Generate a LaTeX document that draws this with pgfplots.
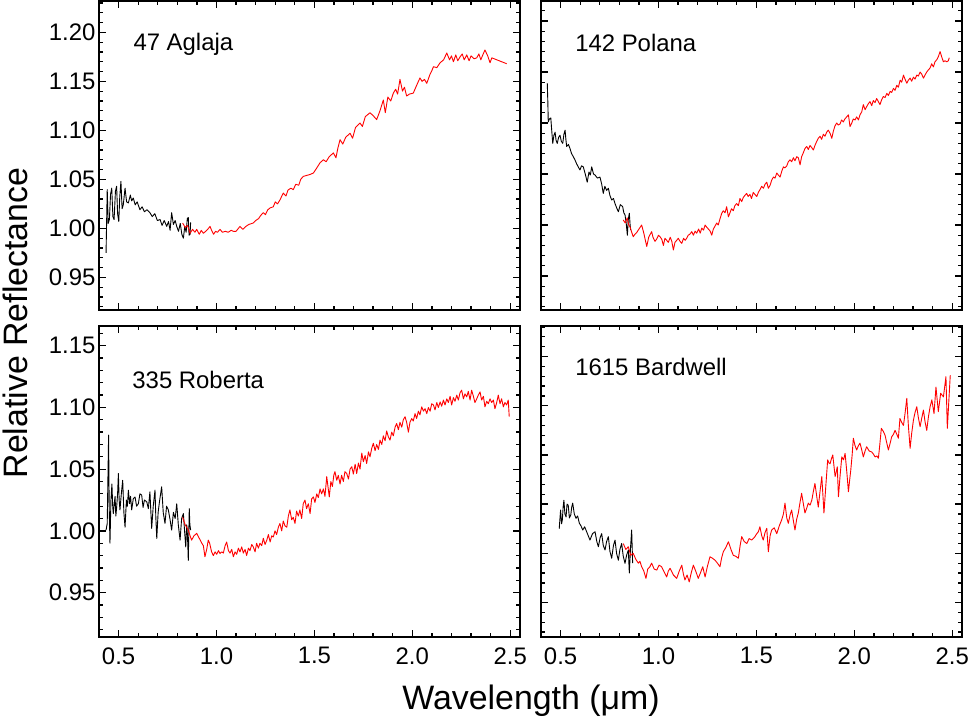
\documentclass[border=0pt]{standalone}
\usepackage{fontspec}
\setmainfont{Liberation Sans}
\usepackage{pgfplots}
\pgfplotsset{compat=1.18}

\newcommand{\tickfont}{\fontsize{24}{28}\selectfont}
\newcommand{\labfont}{\fontsize{34}{40}\selectfont}

\pgfplotsset{
  panel/.style={
    scale only axis,
    width=421bp,
    xmin=0.4, xmax=2.55,
    xtick={0.5,1.0,1.5,2.0,2.5},
    minor xtick={0.4,0.6,0.7,0.8,0.9,1.1,1.2,1.3,1.4,1.6,1.7,1.8,1.9,2.1,2.2,2.3,2.4},
    ytick={0.95,1.00,1.05,1.10,1.15,1.20},
    minor ytick={0.92,0.93,0.94,0.96,0.97,0.98,0.99,1.01,1.02,1.03,1.04,1.06,1.07,1.08,1.09,1.11,1.12,1.13,1.14,1.16,1.17,1.18,1.19,1.21,1.22,1.23},
    tick align=inside,
    major tick length=7bp,
    minor tick length=4bp,
    every tick/.style={black, line width=1.3bp},
    axis line style={line width=1.7bp},
    tick label style={font=\tickfont},
    /pgf/number format/assume math mode=true,
    xticklabel={\pgfmathprintnumber[fixed,fixed zerofill,precision=1]{\tick}},
    yticklabel={\pgfmathprintnumber[fixed,fixed zerofill,precision=2]{\tick}},
    xticklabel style={yshift=-7bp},
    every axis plot/.append style={line width=0.9bp, line join=round},
  },
  vis/.style={black},
  nir/.style={red},
}

\begin{document}
\begin{tikzpicture}
\useasboundingbox (0,0) rectangle (970bp,-718bp);

% ---- 47 Aglaja --------------------------------------------------------
\begin{axis}[panel, height=309bp, at={(99bp,-1bp)}, anchor=north west,
  ymin=0.9167, ymax=1.232, xticklabels={}]
\addplot[vis] coordinates {
(0.436,0.975)(0.442,1.0395)(0.447,1.005)(0.453,1.009)(0.459,1.035)(0.465,1.041)
(0.471,1.012)(0.477,1.009)(0.484,1.038)(0.490,1.043)(0.495,1.015)(0.501,1.007)
(0.506,1.032)(0.512,1.048)(0.518,1.020)(0.524,1.024)(0.533,1.041)(0.541,1.027)
(0.550,1.026)(0.560,1.034)(0.567,1.028)(0.575,1.031)(0.585,1.024)(0.595,1.027)
(0.609,1.019)(0.620,1.022)(0.632,1.017)(0.645,1.019)(0.660,1.016)(0.672,1.012)
(0.685,1.015)(0.698,1.008)(0.712,1.009)(0.722,1.003)(0.733,1.008)(0.746,1.002)
(0.755,1.007)(0.763,0.998)(0.771,1.016)(0.780,1.004)(0.789,1.008)(0.797,1.002)
(0.806,0.997)(0.815,1.005)(0.823,0.994)(0.831,0.990)(0.838,1.002)(0.845,0.996)
(0.851,1.010)(0.856,1.011)(0.860,0.993)(0.865,0.994)(0.868,1.006)};
\addplot[nir] coordinates {
(0.827,1.0055)(0.840,1.001)(0.852,1.003)(0.865,0.995)(0.878,0.999)(0.890,0.996)
(0.899,0.999)(0.912,0.994)(0.922,0.998)(0.933,0.995)(0.945,0.997)(0.955,0.999)
(0.967,1.002)(0.975,0.998)(0.985,0.994)(0.995,0.997)(1.005,0.996)(1.018,0.999)
(1.030,0.996)(1.045,0.997)(1.060,0.996)(1.075,0.998)(1.086,0.997)(1.100,0.997)
(1.120,1.002)(1.135,0.999)(1.150,1.002)(1.165,1.004)(1.188,1.0055)(1.200,1.008)
(1.215,1.010)(1.225,1.013)(1.239,1.016)(1.250,1.014)(1.262,1.019)(1.275,1.021)
(1.290,1.022)(1.300,1.027)(1.312,1.025)(1.324,1.029)(1.341,1.036)(1.355,1.033)
(1.365,1.039)(1.380,1.041)(1.392,1.0395)(1.405,1.045)(1.420,1.044)(1.430,1.050)
(1.443,1.053)(1.460,1.054)(1.478,1.055)(1.495,1.0565)(1.510,1.061)(1.529,1.067)
(1.546,1.070)(1.560,1.068)(1.575,1.073)(1.597,1.077)(1.610,1.072)(1.620,1.082)
(1.631,1.0905)(1.645,1.086)(1.660,1.093)(1.682,1.097)(1.695,1.092)(1.710,1.103)
(1.733,1.1075)(1.745,1.104)(1.760,1.114)(1.784,1.118)(1.800,1.115)(1.818,1.111)
(1.835,1.120)(1.852,1.131)(1.862,1.118)(1.875,1.134)(1.890,1.130)(1.903,1.138)
(1.915,1.142)(1.925,1.137)(1.937,1.152)(1.950,1.140)(1.960,1.144)(1.971,1.135)
(1.985,1.137)(2.005,1.138)(2.020,1.145)(2.039,1.1535)(2.050,1.150)(2.062,1.152)
(2.074,1.148)(2.090,1.157)(2.100,1.161)(2.108,1.165)(2.125,1.164)(2.142,1.169)
(2.160,1.172)(2.176,1.179)(2.190,1.172)(2.200,1.176)(2.210,1.170)(2.222,1.177)
(2.232,1.171)(2.244,1.175)(2.255,1.178)(2.265,1.172)(2.278,1.177)(2.290,1.171)
(2.300,1.176)(2.315,1.173)(2.329,1.174)(2.340,1.178)(2.350,1.172)(2.360,1.177)
(2.371,1.182)(2.385,1.176)(2.397,1.169)(2.406,1.174)(2.482,1.168)};
\node[anchor=base west, font=\tickfont] at (rel axis cs:0.0736,0.841) {47 Aglaja};
\end{axis}

% ---- 142 Polana -------------------------------------------------------
\begin{axis}[panel, height=309bp, at={(541bp,-1bp)}, anchor=north west,
  ymin=0.9167, ymax=1.2196, xticklabels={}, yticklabels={}]
\addplot[vis] coordinates {
(0.432,1.139)(0.435,1.120)(0.437,1.101)(0.443,1.104)(0.450,1.105)(0.455,1.092)
(0.460,1.080)(0.466,1.088)(0.472,1.091)(0.477,1.083)(0.483,1.080)(0.490,1.086)
(0.497,1.088)(0.504,1.082)(0.511,1.080)(0.517,1.089)(0.523,1.093)(0.527,1.084)
(0.531,1.077)(0.540,1.079)(0.548,1.075)(0.556,1.070)(0.565,1.067)(0.573,1.064)
(0.582,1.060)(0.590,1.057)(0.599,1.054)(0.607,1.058)(0.616,1.057)(0.626,1.050)
(0.636,1.042)(0.645,1.052)(0.652,1.049)(0.659,1.057)(0.668,1.050)(0.676,1.049)
(0.688,1.046)(0.701,1.047)(0.710,1.040)(0.718,1.031)(0.726,1.038)(0.735,1.034)
(0.744,1.036)(0.752,1.029)(0.761,1.0245)(0.770,1.026)(0.778,1.021)(0.786,1.017)
(0.795,1.013)(0.805,1.020)(0.817,1.018)(0.823,1.012)(0.829,1.010)(0.835,1.002)
(0.841,0.990)(0.846,1.006)(0.851,1.0115)(0.855,1.000)(0.858,0.995)};
\addplot[nir] coordinates {
(0.820,1.005)(0.830,1.002)(0.840,1.007)(0.848,1.000)(0.855,0.998)(0.863,0.993)
(0.871,0.9885)(0.880,0.991)(0.890,0.993)(0.900,0.996)(0.914,1.000)(0.925,0.992)
(0.933,0.985)(0.940,0.979)(0.950,0.988)(0.958,0.991)(0.965,0.9935)(0.972,0.988)
(0.982,0.984)(0.990,0.986)(1.000,0.990)(1.008,0.9885)(1.017,0.986)(1.025,0.980)
(1.033,0.987)(1.042,0.985)(1.050,0.983)(1.060,0.988)(1.068,0.984)(1.076,0.9755)
(1.084,0.983)(1.093,0.985)(1.101,0.987)(1.110,0.984)(1.119,0.982)(1.128,0.987)
(1.136,0.985)(1.144,0.987)(1.152,0.990)(1.160,0.991)(1.170,0.9935)(1.178,0.990)
(1.187,0.994)(1.195,0.992)(1.205,0.996)(1.213,0.992)(1.221,0.997)(1.230,0.995)
(1.238,1.000)(1.246,0.998)(1.255,0.996)(1.264,0.994)(1.272,0.990)(1.280,0.996)
(1.289,0.999)(1.297,1.002)(1.305,1.000)(1.314,1.006)(1.323,1.0115)(1.331,1.014)
(1.340,1.012)(1.348,1.018)(1.357,1.008)(1.365,1.012)(1.373,1.016)(1.382,1.014)
(1.390,1.019)(1.399,1.021)(1.408,1.019)(1.416,1.026)(1.425,1.023)(1.433,1.027)
(1.441,1.029)(1.450,1.031)(1.458,1.028)(1.467,1.030)(1.475,1.026)(1.484,1.032)
(1.492,1.030)(1.502,1.028)(1.510,1.032)(1.519,1.035)(1.527,1.038)(1.536,1.036)
(1.544,1.040)(1.553,1.042)(1.561,1.036)(1.570,1.039)(1.578,1.044)(1.587,1.047)
(1.595,1.046)(1.604,1.051)(1.612,1.049)(1.621,1.047)(1.630,1.053)(1.638,1.057)
(1.646,1.056)(1.655,1.058)(1.663,1.062)(1.672,1.064)(1.680,1.062)(1.689,1.066)
(1.697,1.063)(1.706,1.067)(1.714,1.066)(1.723,1.059)(1.731,1.067)(1.740,1.071)
(1.748,1.075)(1.757,1.077)(1.765,1.074)(1.774,1.078)(1.782,1.076)(1.791,1.0735)
(1.799,1.078)(1.808,1.082)(1.816,1.085)(1.825,1.087)(1.833,1.084)(1.842,1.089)
(1.850,1.087)(1.859,1.091)(1.867,1.093)(1.876,1.090)(1.885,1.085)(1.893,1.092)
(1.901,1.097)(1.910,1.100)(1.918,1.098)(1.927,1.099)(1.935,1.103)(1.944,1.101)
(1.952,1.104)(1.961,1.106)(1.970,1.108)(1.978,1.0965)(1.987,1.100)(1.995,1.104)
(2.004,1.103)(2.012,1.106)(2.021,1.103)(2.029,1.108)(2.038,1.111)(2.046,1.118)
(2.055,1.113)(2.063,1.116)(2.072,1.119)(2.080,1.121)(2.089,1.117)(2.097,1.122)
(2.106,1.120)(2.114,1.124)(2.123,1.121)(2.131,1.118)(2.140,1.123)(2.148,1.126)
(2.157,1.125)(2.166,1.129)(2.174,1.127)(2.183,1.131)(2.191,1.130)(2.200,1.134)
(2.208,1.132)(2.217,1.137)(2.225,1.135)(2.234,1.142)(2.242,1.140)(2.251,1.147)
(2.259,1.143)(2.268,1.139)(2.276,1.142)(2.285,1.144)(2.293,1.141)(2.302,1.145)
(2.310,1.143)(2.319,1.147)(2.327,1.146)(2.336,1.150)(2.344,1.148)(2.353,1.144)
(2.361,1.147)(2.370,1.150)(2.378,1.152)(2.387,1.154)(2.395,1.158)(2.404,1.155)
(2.412,1.160)(2.421,1.162)(2.429,1.165)(2.438,1.170)(2.446,1.165)(2.455,1.160)
(2.463,1.161)(2.472,1.160)(2.480,1.161)(2.485,1.164)};
\node[anchor=base west, font=\tickfont] at (rel axis cs:0.073,0.836) {142 Polana};
\end{axis}

% ---- 335 Roberta ------------------------------------------------------
\begin{axis}[panel, height=311bp, at={(99bp,-326bp)}, anchor=north west,
  ymin=0.914, ymax=1.166]
\addplot[vis] coordinates {
(0.436,1.0006)(0.442,1.006)(0.449,1.0776)(0.452,1.020)(0.456,0.990)(0.461,1.025)
(0.466,1.038)(0.470,1.020)(0.473,1.014)(0.478,1.022)(0.482,1.028)(0.486,1.012)
(0.490,1.019)(0.495,1.030)(0.499,1.0465)(0.503,1.025)(0.507,1.017)(0.514,1.030)
(0.521,1.041)(0.527,1.015)(0.533,1.003)(0.540,1.025)(0.545,1.020)(0.550,1.033)
(0.556,1.022)(0.561,1.028)(0.567,1.017)(0.575,1.026)(0.584,1.0275)(0.592,1.020)
(0.601,1.022)(0.609,1.030)(0.618,1.029)(0.625,1.019)(0.632,1.025)(0.644,1.0235)
(0.652,1.018)(0.660,1.0316)(0.665,1.015)(0.669,1.002)(0.677,1.020)(0.686,1.033)
(0.690,1.012)(0.695,0.9938)(0.702,1.015)(0.710,1.025)(0.720,1.0357)(0.728,1.015)
(0.737,1.006)(0.745,1.020)(0.754,1.017)(0.762,1.010)(0.771,1.0006)(0.780,1.015)
(0.789,1.010)(0.797,1.022)(0.805,1.005)(0.814,0.9925)(0.822,1.010)(0.831,1.014)
(0.837,1.000)(0.843,0.987)(0.848,1.005)(0.852,0.996)(0.856,0.976)(0.861,1.018)
(0.864,1.005)(0.868,1.0006)};
\addplot[nir] coordinates {
(0.827,1.011)(0.840,1.005)(0.856,1.0006)(0.865,0.996)(0.873,0.9925)(0.885,0.996)
(0.899,0.998)(0.912,0.994)(0.925,0.990)(0.933,0.988)(0.941,0.979)(0.950,0.985)
(0.958,0.9925)(0.965,0.990)(0.975,0.983)(0.984,0.980)(0.993,0.983)(1.001,0.981)
(1.010,0.984)(1.018,0.9817)(1.027,0.983)(1.035,0.982)(1.044,0.988)(1.052,0.991)
(1.061,0.984)(1.069,0.982)(1.078,0.985)(1.086,0.979)(1.095,0.983)(1.103,0.981)
(1.112,0.986)(1.120,0.983)(1.129,0.987)(1.137,0.982)(1.146,0.985)(1.154,0.980)
(1.163,0.986)(1.171,0.984)(1.180,0.989)(1.188,0.987)(1.197,0.983)(1.205,0.990)
(1.214,0.986)(1.222,0.990)(1.231,0.988)(1.239,0.994)(1.248,0.989)(1.257,0.9925)
(1.265,0.997)(1.274,0.991)(1.282,0.996)(1.290,0.995)(1.299,1.000)(1.307,0.997)
(1.316,1.003)(1.324,1.006)(1.333,1.000)(1.341,1.008)(1.350,1.004)(1.359,1.003)
(1.367,1.012)(1.375,1.017)(1.384,1.009)(1.392,1.011)(1.401,1.006)(1.409,1.016)
(1.418,1.012)(1.426,1.017)(1.435,1.010)(1.443,1.022)(1.452,1.025)(1.460,1.018)
(1.469,1.022)(1.478,1.014)(1.486,1.026)(1.495,1.0275)(1.503,1.023)(1.512,1.030)
(1.520,1.027)(1.529,1.034)(1.537,1.030)(1.546,1.034)(1.554,1.028)(1.563,1.044)
(1.570,1.035)(1.576,1.0275)(1.584,1.040)(1.592,1.036)(1.599,1.045)(1.605,1.048)
(1.614,1.041)(1.622,1.045)(1.631,1.038)(1.639,1.045)(1.648,1.040)(1.656,1.048)
(1.665,1.0465)(1.674,1.042)(1.682,1.050)(1.691,1.052)(1.699,1.046)(1.708,1.054)
(1.716,1.0465)(1.725,1.055)(1.733,1.050)(1.742,1.063)(1.750,1.056)(1.759,1.061)
(1.767,1.0546)(1.776,1.064)(1.784,1.060)(1.793,1.067)(1.801,1.071)(1.810,1.065)
(1.818,1.070)(1.827,1.066)(1.835,1.0735)(1.844,1.070)(1.852,1.077)(1.861,1.073)
(1.869,1.081)(1.878,1.076)(1.886,1.0735)(1.895,1.080)(1.903,1.077)(1.912,1.084)
(1.920,1.087)(1.929,1.082)(1.937,1.088)(1.946,1.084)(1.954,1.090)(1.963,1.0925)
(1.971,1.088)(1.980,1.080)(1.988,1.088)(1.997,1.091)(2.005,1.089)(2.014,1.095)
(2.022,1.091)(2.031,1.097)(2.039,1.094)(2.048,1.1005)(2.057,1.097)(2.065,1.099)
(2.074,1.095)(2.082,1.100)(2.091,1.097)(2.099,1.103)(2.108,1.102)(2.116,1.098)
(2.125,1.104)(2.133,1.100)(2.142,1.1045)(2.150,1.101)(2.159,1.106)(2.167,1.102)
(2.176,1.107)(2.184,1.104)(2.193,1.109)(2.201,1.102)(2.210,1.108)(2.218,1.105)
(2.227,1.110)(2.235,1.106)(2.244,1.112)(2.252,1.114)(2.261,1.107)(2.269,1.111)
(2.278,1.1086)(2.286,1.113)(2.295,1.106)(2.303,1.114)(2.312,1.109)(2.320,1.104)
(2.329,1.107)(2.337,1.110)(2.346,1.1126)(2.354,1.106)(2.363,1.109)(2.371,1.1005)
(2.380,1.105)(2.388,1.103)(2.397,1.107)(2.405,1.104)(2.414,1.106)(2.422,1.099)
(2.431,1.104)(2.439,1.110)(2.448,1.103)(2.456,1.107)(2.465,1.1005)(2.473,1.104)
(2.482,1.102)(2.490,1.106)(2.495,1.0925)};
\node[anchor=base west, font=\tickfont] at (rel axis cs:0.071,0.80) {335 Roberta};
\end{axis}

% ---- 1615 Bardwell ----------------------------------------------------
\begin{axis}[panel, height=311bp, at={(541bp,-326bp)}, anchor=north west,
  ymin=0.915, ymax=1.231, yticklabels={}]
\addplot[vis] coordinates {
(0.493,1.025)(0.500,1.044)(0.505,1.030)(0.509,1.034)(0.513,1.047)(0.517,1.054)
(0.522,1.040)(0.528,1.037)(0.533,1.050)(0.539,1.049)(0.545,1.036)(0.552,1.039)
(0.557,1.047)(0.562,1.051)(0.570,1.040)(0.579,1.0356)(0.587,1.038)(0.596,1.0305)
(0.604,1.028)(0.613,1.0237)(0.623,1.027)(0.633,1.022)(0.641,1.018)(0.650,1.0135)
(0.663,1.020)(0.676,1.022)(0.685,1.012)(0.693,1.0067)(0.702,1.016)(0.710,1.020)
(0.718,1.008)(0.727,1.0034)(0.735,1.012)(0.744,1.017)(0.752,1.002)(0.761,0.995)
(0.770,1.008)(0.778,1.0135)(0.786,1.000)(0.795,0.993)(0.803,1.004)(0.812,1.010)
(0.820,0.997)(0.829,0.9898)(0.837,0.998)(0.846,1.0034)(0.851,0.980)(0.857,1.005)
(0.863,1.0237)(0.868,0.990)};
\addplot[nir] coordinates {
(0.820,1.010)(0.833,1.004)(0.846,1.0067)(0.858,0.998)(0.871,1.000)(0.884,0.994)
(0.897,0.990)(0.905,0.992)(0.914,0.9864)(0.925,0.982)(0.936,0.9746)(0.945,0.984)
(0.955,0.986)(0.965,0.990)(0.978,0.984)(0.991,0.983)(1.003,0.988)(1.016,0.9864)
(1.029,0.981)(1.042,0.976)(1.050,0.982)(1.059,0.9848)(1.076,0.978)(1.093,0.9746)
(1.106,0.982)(1.119,0.988)(1.127,0.979)(1.135,0.973)(1.146,0.978)(1.157,0.971)
(1.167,0.980)(1.178,0.988)(1.190,0.982)(1.203,0.9746)(1.214,0.980)(1.226,0.9864)
(1.238,0.976)(1.250,0.987)(1.263,0.9965)(1.276,0.995)(1.289,0.993)(1.301,0.990)
(1.314,0.9864)(1.322,0.995)(1.331,1.0016)(1.344,1.006)(1.357,1.0118)(1.370,1.004)
(1.382,0.998)(1.395,0.997)(1.408,0.995)(1.417,1.008)(1.425,1.017)(1.438,1.012)
(1.451,1.010)(1.463,1.015)(1.476,1.0135)(1.489,1.016)(1.502,1.020)(1.510,1.022)
(1.518,1.027)(1.527,1.018)(1.535,1.0135)(1.544,1.021)(1.553,1.0254)(1.561,1.0016)
(1.570,1.018)(1.578,1.0237)(1.591,1.026)(1.604,1.020)(1.617,1.028)(1.629,1.034)
(1.638,1.040)(1.646,1.051)(1.655,1.036)(1.663,1.0305)(1.672,1.039)(1.680,1.044)
(1.689,1.033)(1.697,1.0237)(1.706,1.035)(1.714,1.041)(1.723,1.052)(1.731,1.061)
(1.740,1.050)(1.748,1.041)(1.757,1.046)(1.765,1.051)(1.774,1.049)(1.783,1.054)
(1.791,1.063)(1.799,1.071)(1.808,1.058)(1.816,1.047)(1.825,1.063)(1.834,1.078)
(1.840,1.058)(1.845,1.041)(1.855,1.070)(1.864,1.095)(1.870,1.092)(1.876,1.091)
(1.883,1.096)(1.890,1.100)(1.896,1.089)(1.902,1.078)(1.908,1.083)(1.913,1.088)
(1.919,1.0575)(1.927,1.078)(1.936,1.098)(1.945,1.095)(1.953,1.1016)(1.962,1.082)
(1.970,1.0626)(1.976,1.074)(1.982,1.0847)(1.989,1.100)(1.995,1.117)(2.003,1.110)
(2.012,1.105)(2.020,1.109)(2.029,1.112)(2.038,1.105)(2.046,1.098)(2.055,1.104)
(2.063,1.1083)(2.076,1.104)(2.089,1.103)(2.097,1.101)(2.106,1.098)(2.115,1.099)
(2.123,1.0966)(2.130,1.110)(2.138,1.127)(2.148,1.124)(2.157,1.120)(2.166,1.112)
(2.174,1.105)(2.183,1.112)(2.191,1.1185)(2.200,1.121)(2.208,1.125)(2.217,1.121)
(2.225,1.117)(2.233,1.137)(2.242,1.133)(2.251,1.130)(2.259,1.142)(2.268,1.1575)
(2.276,1.130)(2.285,1.1067)(2.293,1.122)(2.302,1.1355)(2.310,1.143)(2.319,1.149)
(2.327,1.138)(2.336,1.1287)(2.344,1.137)(2.353,1.1456)(2.361,1.134)(2.370,1.125)
(2.378,1.138)(2.387,1.149)(2.396,1.156)(2.407,1.142)(2.417,1.169)(2.429,1.144)
(2.441,1.1626)(2.455,1.159)(2.468,1.1795)(2.475,1.127)(2.490,1.181)};
\node[anchor=base west, font=\tickfont] at (rel axis cs:0.073,0.842) {1615 Bardwell};
\end{axis}

% ---- shared axis titles ----------------------------------------------
\node[rotate=90, anchor=base, font=\labfont] at (27bp,-323bp) {Relative Reflectance};
\node[anchor=base, font=\labfont] at (531bp,-709bp) {Wavelength (μm)};
\end{tikzpicture}
\end{document}
